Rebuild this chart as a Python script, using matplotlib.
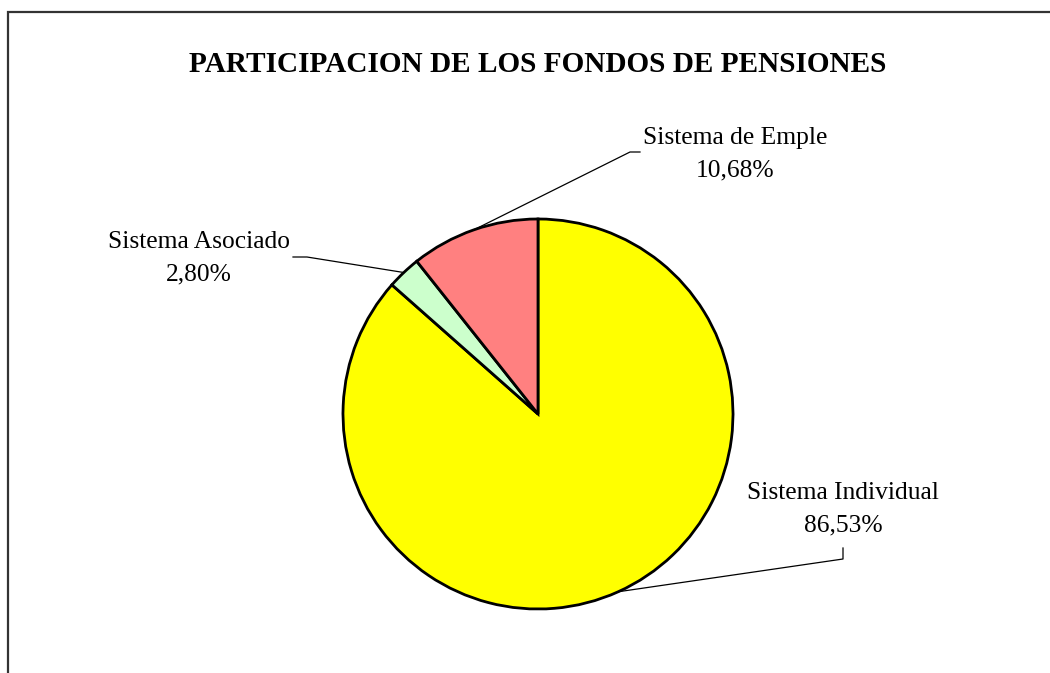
import numpy as np
import matplotlib
matplotlib.use("Agg")
import matplotlib.pyplot as plt

title = "PARTICIPACION DE LOS FONDOS DE PENSIONES"
categories = ["Sistema Individual", "Sistema Asociado", "Sistema de Emple"]
values = [86.53, 2.80, 10.68]
value_labels = ["86,53%", "2,80%", "10,68%"]
colors = ["#FFFF00", "#CCFFCC", "#FF8080"]

W, H = 1050, 673
fig = plt.figure(figsize=(W / 100, H / 100), dpi=100)
ax = fig.add_axes([0, 0, 1, 1])
ax.set_xlim(0, W)
ax.set_ylim(0, H)
ax.set_aspect("equal")
ax.axis("off")

# frame (left and top visible)
ax.plot([8, 8, W + 5], [-5, H - 12, H - 12], color="#333333", lw=1.6,
        solid_joinstyle="miter")

serif = ["Liberation Serif", "DejaVu Serif"]
ax.text(538, H - 64, title, ha="center", va="center", fontsize=21.1,
        fontweight="bold", family=serif)

cx, cy, r = 538, H - 414, 195
wedges, _ = ax.pie(values, colors=colors, startangle=90, counterclock=False,
                   center=(cx, cy), radius=r, frame=True,
                   wedgeprops=dict(edgecolor="black", linewidth=2))
ax.set_xlim(0, W)
ax.set_ylim(0, H)
ax.axis("off")

# label layout: text center, leader elbow points (pixel coords from top)
text_pos = [(843, 509), (199, 258), (735, 154)]
elbows = [[(843, 559), (843, 548)], [(307, 257), (293, 257)], [(630, 152), (640, 152)]]

for w, cat, vl, tp, el in zip(wedges, categories, value_labels, text_pos, elbows):
    mid = np.deg2rad((w.theta1 + w.theta2) / 2)
    sx, sy = cx + r * np.cos(mid), cy + r * np.sin(mid)
    xs = [sx] + [p[0] for p in el]
    ys = [sy] + [H - p[1] for p in el]
    ax.plot(xs, ys, color="black", lw=0.9, zorder=1)
    ax.text(tp[0], H - tp[1], f"{cat}\n{vl}", ha="center", va="center",
            fontsize=18.4, family=serif, linespacing=1.62)

fig.savefig("out.png", dpi=100)
